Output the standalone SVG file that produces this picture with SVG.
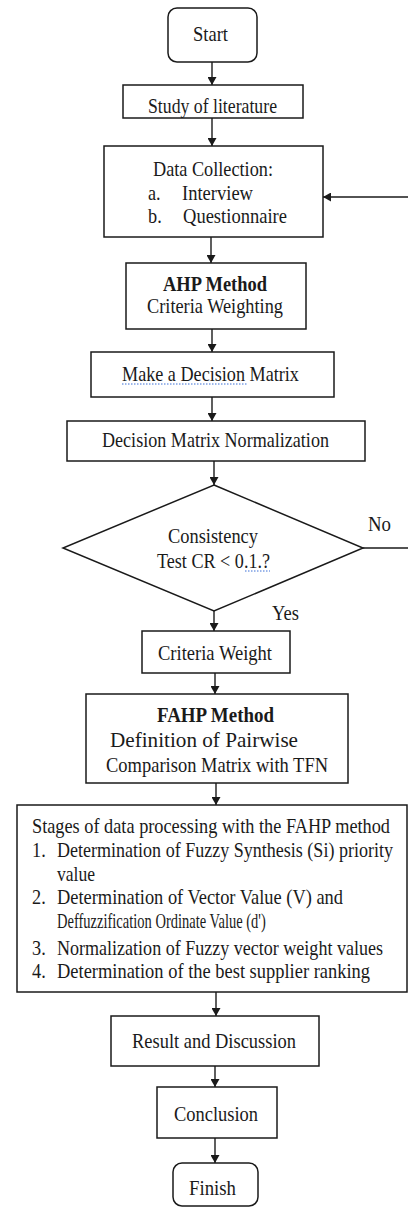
<svg xmlns="http://www.w3.org/2000/svg" width="408" height="1207" viewBox="0 0 408 1207">
<style>
.box{fill:#fff;stroke:#1a1a1a;stroke-width:1.5}
.t{font-family:"Liberation Serif","Times New Roman",serif;font-size:21px;fill:#1a1a1a}
.b{font-weight:bold}
.c{fill:none;stroke:#1a1a1a;stroke-width:1.4}
.sq{fill:none;stroke:#3b6fd6;stroke-width:1;stroke-dasharray:1.5 1.5}
</style>
<defs>
<marker id="ah" markerUnits="userSpaceOnUse" markerWidth="9" markerHeight="9" refX="8" refY="4.5" orient="auto">
<path d="M0,0 L8,4.5 L0,9 z" fill="#1a1a1a"/>
</marker>
</defs>
<rect width="408" height="1207" fill="#fff"/>
<g id="connectors">
<line class="c" x1="212" y1="62" x2="212" y2="85" marker-end="url(#ah)"/>
<line class="c" x1="212" y1="118" x2="212" y2="146" marker-end="url(#ah)"/>
<line class="c" x1="211" y1="237" x2="211" y2="263" marker-end="url(#ah)"/>
<line class="c" x1="212" y1="329" x2="212" y2="352" marker-end="url(#ah)"/>
<line class="c" x1="212" y1="397" x2="212" y2="421" marker-end="url(#ah)"/>
<line class="c" x1="214" y1="461" x2="214" y2="485" marker-end="url(#ah)"/>
<line class="c" x1="214" y1="611" x2="214" y2="631" marker-end="url(#ah)"/>
<line class="c" x1="215" y1="673" x2="215" y2="694" marker-end="url(#ah)"/>
<line class="c" x1="216" y1="783" x2="216" y2="805" marker-end="url(#ah)"/>
<line class="c" x1="216" y1="992" x2="216" y2="1016" marker-end="url(#ah)"/>
<line class="c" x1="215" y1="1066" x2="215" y2="1087" marker-end="url(#ah)"/>
<line class="c" x1="215" y1="1138" x2="215" y2="1163" marker-end="url(#ah)"/>
<line class="c" x1="408" y1="197" x2="323" y2="197" marker-end="url(#ah)"/>
<line class="c" x1="363" y1="548" x2="408" y2="548"/>
<text class="t" transform="translate(368,531) scale(0.87,1)" textLength="26.4" lengthAdjust="spacingAndGlyphs">No</text>
<text class="t" transform="translate(272,620) scale(0.87,1)" textLength="31" lengthAdjust="spacingAndGlyphs">Yes</text>
</g>
<g id="start">
<rect class="box" x="168" y="8" width="89" height="54" rx="9"/>
<text class="t" transform="translate(193,41) scale(0.87,1)" textLength="40.2" lengthAdjust="spacingAndGlyphs">Start</text>
</g>
<g id="study">
<rect class="box" x="123" y="85" width="180" height="33"/>
<text class="t" transform="translate(148,113) scale(0.87,1)" textLength="148.3" lengthAdjust="spacingAndGlyphs">Study of literature</text>
</g>
<g id="data">
<rect class="box" x="104" y="146" width="219" height="91"/>
<text class="t" transform="translate(153,176) scale(0.87,1)" textLength="137.9" lengthAdjust="spacingAndGlyphs">Data Collection:</text>
<text class="t" transform="translate(148,200) scale(0.87,1)">a.</text>
<text class="t" transform="translate(182,200) scale(0.87,1)" textLength="81.6" lengthAdjust="spacingAndGlyphs">Interview</text>
<text class="t" transform="translate(148,223) scale(0.87,1)">b.</text>
<text class="t" transform="translate(183,223) scale(0.87,1)" textLength="119.5" lengthAdjust="spacingAndGlyphs">Questionnaire</text>
</g>
<g id="ahp">
<rect class="box" x="126" y="263" width="180" height="66"/>
<text class="t b" transform="translate(163,291) scale(0.87,1)" textLength="119.5" lengthAdjust="spacingAndGlyphs">AHP Method</text>
<text class="t" transform="translate(147,313) scale(0.87,1)" textLength="156.3" lengthAdjust="spacingAndGlyphs">Criteria Weighting</text>
</g>
<g id="make">
<rect class="box" x="91" y="352" width="243" height="45"/>
<text class="t" transform="translate(122,381) scale(0.87,1)" textLength="203.4" lengthAdjust="spacingAndGlyphs">Make a Decision Matrix</text>
<line class="sq" x1="122" y1="384" x2="247" y2="384"/>
</g>
<g id="norm">
<rect class="box" x="67" y="421" width="298" height="40"/>
<text class="t" transform="translate(102,447) scale(0.87,1)" textLength="260.9" lengthAdjust="spacingAndGlyphs">Decision Matrix Normalization</text>
</g>
<g id="consistency">
<polygon class="box" points="214,485 363,548 214,611 63,548"/>
<text class="t" transform="translate(168,543) scale(0.87,1)" textLength="103.4" lengthAdjust="spacingAndGlyphs">Consistency</text>
<text class="t" transform="translate(157,568) scale(0.87,1)" textLength="129.9" lengthAdjust="spacingAndGlyphs">Test CR &lt; 0.1.?</text>
<line class="sq" x1="245" y1="571" x2="270" y2="571"/>
</g>
<g id="criteria-weight">
<rect class="box" x="142" y="631" width="148" height="42"/>
<text class="t" transform="translate(158,660) scale(0.87,1)" textLength="131" lengthAdjust="spacingAndGlyphs">Criteria Weight</text>
</g>
<g id="fahp">
<rect class="box" x="86" y="694" width="262" height="89"/>
<text class="t b" transform="translate(157,722) scale(0.87,1)" textLength="134.5" lengthAdjust="spacingAndGlyphs">FAHP Method</text>
<text class="t" transform="translate(110,747) scale(0.87,1)" textLength="216.1" lengthAdjust="spacingAndGlyphs">Definition of Pairwise</text>
<text class="t" transform="translate(106,772) scale(0.87,1)" textLength="255.2" lengthAdjust="spacingAndGlyphs">Comparison Matrix with TFN</text>
</g>
<g id="stages">
<rect class="box" x="17" y="805" width="390" height="187"/>
<text class="t" transform="translate(32,833) scale(0.87,1)" textLength="411.5" lengthAdjust="spacingAndGlyphs">Stages of data processing with the FAHP method</text>
<text class="t" transform="translate(32,857) scale(0.87,1)">1.</text>
<text class="t" transform="translate(57,857) scale(0.87,1)" textLength="386.2" lengthAdjust="spacingAndGlyphs">Determination of Fuzzy Synthesis (Si) priority</text>
<text class="t" transform="translate(57,881) scale(0.87,1)" textLength="43.7" lengthAdjust="spacingAndGlyphs">value</text>
<text class="t" transform="translate(32,904) scale(0.87,1)">2.</text>
<text class="t" transform="translate(57,904) scale(0.87,1)" textLength="328.7" lengthAdjust="spacingAndGlyphs">Determination of Vector Value (V) and</text>
<text class="t" transform="translate(57,928) scale(0.87,1)" textLength="240" lengthAdjust="spacingAndGlyphs">Deffuzzification Ordinate Value (d')</text>
<text class="t" transform="translate(32,955) scale(0.87,1)">3.</text>
<text class="t" transform="translate(57,955) scale(0.87,1)" textLength="374.7" lengthAdjust="spacingAndGlyphs">Normalization of Fuzzy vector weight values</text>
<text class="t" transform="translate(32,978) scale(0.87,1)">4.</text>
<text class="t" transform="translate(57,978) scale(0.87,1)" textLength="359.8" lengthAdjust="spacingAndGlyphs">Determination of the best supplier ranking</text>
</g>
<g id="result">
<rect class="box" x="111" y="1016" width="208" height="50"/>
<text class="t" transform="translate(132,1048) scale(0.87,1)" textLength="188.5" lengthAdjust="spacingAndGlyphs">Result and Discussion</text>
</g>
<g id="conclusion">
<rect class="box" x="157" y="1087" width="120" height="51"/>
<text class="t" transform="translate(174,1121) scale(0.87,1)" textLength="96.6" lengthAdjust="spacingAndGlyphs">Conclusion</text>
</g>
<g id="finish">
<rect class="box" x="173" y="1163" width="85" height="43" rx="9"/>
<text class="t" transform="translate(189,1195) scale(0.87,1)" textLength="54" lengthAdjust="spacingAndGlyphs">Finish</text>
</g>
</svg>
